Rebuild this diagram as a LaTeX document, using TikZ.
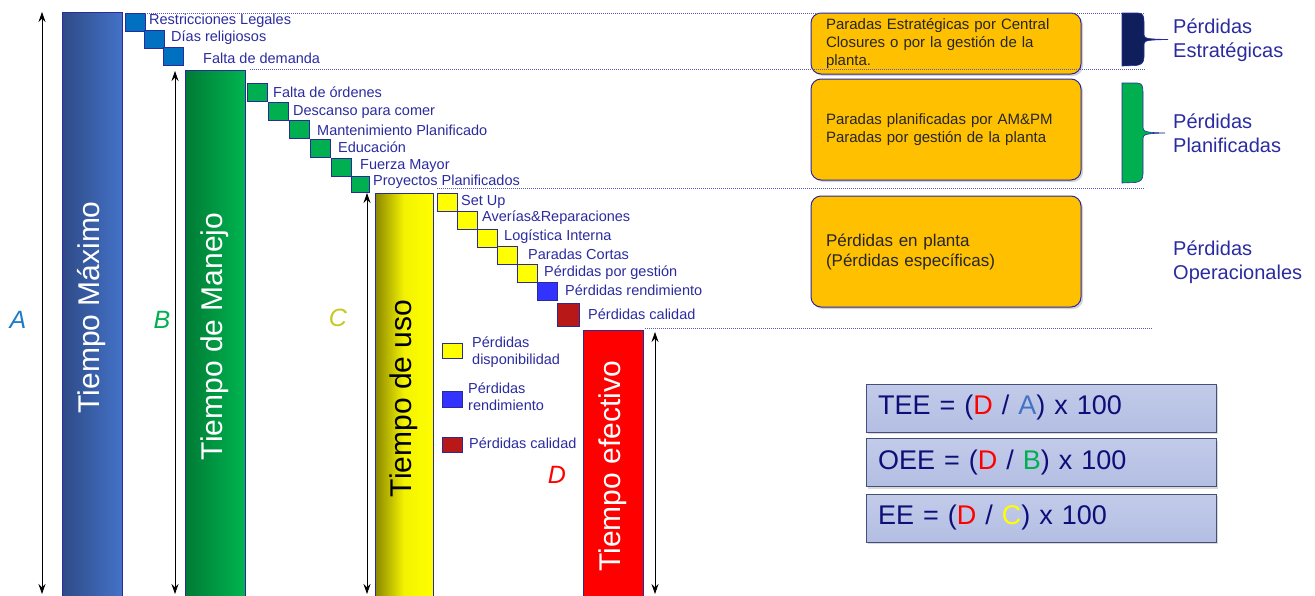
\documentclass[tikz,border=0pt]{standalone}
\usepackage{fontspec}
\setmainfont{Liberation Sans}
\usetikzlibrary{arrows.meta,shadows,positioning}

\definecolor{navytxt}{HTML}{2B2BA0}
\definecolor{navyline}{HTML}{2A2A9A}
\definecolor{guideblue}{HTML}{5858C0}
\definecolor{maxdark}{HTML}{2E4A86}
\definecolor{maxlight}{HTML}{4472C8}
\definecolor{mandark}{HTML}{007A35}
\definecolor{manlight}{HTML}{00B550}
\definecolor{usodark}{HTML}{8A8600}
\definecolor{usolight}{HTML}{FFFF00}
\definecolor{efred}{HTML}{FF0000}
\definecolor{stepblue}{HTML}{0070C0}
\definecolor{stepgreen}{HTML}{00B050}
\definecolor{perfblue}{HTML}{3333FF}
\definecolor{qualred}{HTML}{B81818}
\definecolor{lossorange}{HTML}{FFC000}
\definecolor{boxtxt}{HTML}{262626}
\definecolor{formfill}{HTML}{B3BEE3}
\definecolor{formline}{HTML}{44507A}
\definecolor{formtxt}{HTML}{0E0E78}
\definecolor{labA}{HTML}{1F7BC8}
\definecolor{formA}{HTML}{4472C4}
\definecolor{labC}{HTML}{C8C820}
\definecolor{stratnavy}{HTML}{0F1F5C}

\begin{document}
\begin{tikzpicture}[x=1pt, y=-1pt, >=Stealth,
  bar/.style={draw=navyline, line width=0.8pt, minimum width=60pt, anchor=north, inner sep=0pt},
  barlbl/.style={rotate=90, font=\fontsize{30}{34}\selectfont, inner sep=0pt},
  stepsq/.style={draw=navyline, line width=0.8pt, minimum width=20pt, minimum height=18pt, inner sep=0pt},
  steplbl/.style={anchor=west, text=navytxt, font=\fontsize{14.5}{17}\selectfont, inner sep=0pt},
  dimarrow/.style={<->, line width=0.8pt, >={Stealth[length=10pt,width=7pt]}},
  dimlbl/.style={font=\fontsize{25}{28}\selectfont\itshape, inner sep=0pt},
  guide/.style={densely dotted, guideblue, line width=1pt},
  lossbox/.style={draw=navyline, line width=1pt, fill=lossorange, rounded corners=10pt,
                  text width=240pt, inner xsep=15pt, align=left, text=boxtxt,
                  font=\fontsize{15}{18}\selectfont,
                  drop shadow={shadow xshift=2pt, shadow yshift=-2pt, opacity=0.35}},
  grouplbl/.style={anchor=west, align=left, text=navytxt, font=\fontsize{20}{24}\selectfont, inner sep=0pt},
  formbox/.style={draw=formline, line width=1pt, top color=formfill!80!white, bottom color=formfill,
                  minimum height=48pt, text width=326pt, inner xsep=12pt, align=left, text=formtxt,
                  font=\fontsize{27}{30}\selectfont,
                  drop shadow={shadow xshift=2pt, shadow yshift=-2pt, opacity=0.3}}]
  \useasboundingbox (0,0) rectangle (1315,595);
  \clip (0,0) rectangle (1315,595);

  % Time bars
  \node[bar, left color=maxdark, right color=maxlight, minimum height=590pt] (maxBar) at (92,12) {};
  \node[bar, left color=mandark, right color=manlight, minimum height=532pt] (manBar) at (215,70) {};
  \node[bar, left color=usodark, right color=usolight, middle color=usolight!90!usodark, minimum width=58pt, minimum height=410pt] (usoBar) at (404,193) {};
  \node[bar, fill=efred, minimum height=272pt] (efBar) at (613,330) {};
  \node[barlbl, white] (maxTxt) at (maxBar.center) {Tiempo Máximo};
  \node[barlbl, white] (manTxt) at (manBar.center) {Tiempo de Manejo};
  \node[barlbl, black] (usoTxt) at (usoBar.center) {Tiempo de uso};
  \node[barlbl, white] (efTxt) at (efBar.center) {Tiempo efectivo};

  % Dimension arrows
  \coordinate (aTop) at (42,12);   \coordinate (aBot) at (42,594);
  \coordinate (bTop) at (175,71);  \coordinate (bBot) at (175,594);
  \coordinate (cTop) at (367,193); \coordinate (cBot) at (367,594);
  \coordinate (dTop) at (655,332); \coordinate (dBot) at (655,594);
  \draw[dimarrow] (aTop) -- (aBot);
  \draw[dimarrow] (bTop) -- (bBot);
  \draw[dimarrow] (cTop) -- (cBot);
  \draw[dimarrow] (dTop) -- (dBot);
  \node[dimlbl, text=labA] (labelA) at (18,320) {A};
  \node[dimlbl, text=stepgreen] (labelB) at (162,320) {B};
  \node[dimlbl, text=labC] (labelC) at (338,318) {C};
  \node[dimlbl, text=efred] (labelD) at (557,475) {D};

  % Strategic losses
  \node[stepsq, fill=stepblue] (s1) at (135,22) {};
  \node[stepsq, fill=stepblue] (s2) at (154,39) {};
  \node[stepsq, fill=stepblue] (s3) at (173,56) {};
  \node[steplbl] (s1t) at (149,21) {Restricciones Legales};
  \node[steplbl] (s2t) at (171,38) {Días religiosos};
  \node[steplbl] (s3t) at (203,58) {Falta de demanda};

  % Planned losses
  \node[stepsq, fill=stepgreen] (p1) at (257,92) {};
  \node[stepsq, fill=stepgreen] (p2) at (278,111) {};
  \node[stepsq, fill=stepgreen] (p3) at (299,129.5) {};
  \node[stepsq, fill=stepgreen] (p4) at (320,148.5) {};
  \node[stepsq, fill=stepgreen] (p5) at (341,167) {};
  \node[stepsq, fill=stepgreen, minimum width=18pt, minimum height=16pt] (p6) at (360,184.5) {};
  \node[steplbl] (p1t) at (273,92) {Falta de órdenes};
  \node[steplbl] (p2t) at (293,112) {Descanso para comer};
  \node[steplbl] (p3t) at (317,130) {Mantenimiento Planificado};
  \node[steplbl] (p4t) at (338,147) {Educación};
  \node[steplbl] (p5t) at (360,166) {Fuerza Mayor};
  \node[steplbl] (p6t) at (373,182) {Proyectos Planificados};

  % Operational losses
  \node[stepsq, fill=usolight] (o1) at (447.5,202) {};
  \node[stepsq, fill=usolight] (o2) at (467,220) {};
  \node[stepsq, fill=usolight] (o3) at (487,238) {};
  \node[stepsq, fill=usolight] (o4) at (507,255.5) {};
  \node[stepsq, fill=usolight] (o5) at (527,273) {};
  \node[stepsq, fill=perfblue] (o6) at (547,291.5) {};
  \node[stepsq, fill=qualred, minimum width=22pt, minimum height=23pt] (o7) at (568.5,315) {};
  \node[steplbl] (o1t) at (461,202) {Set Up};
  \node[steplbl] (o2t) at (482,218) {Averías\&Reparaciones};
  \node[steplbl] (o3t) at (504,237) {Logística Interna};
  \node[steplbl] (o4t) at (528,254) {Paradas Cortas};
  \node[steplbl] (o5t) at (544,273) {Pérdidas por gestión};
  \node[steplbl] (o6t) at (565,290) {Pérdidas rendimiento};
  \node[steplbl] (o7t) at (588,314) {Pérdidas calidad};

  % Legend
  \node[stepsq, fill=usolight, minimum height=15pt] (leg1) at (452,350.5) {};
  \node[stepsq, fill=perfblue, minimum height=16pt] (leg2) at (452,399) {};
  \node[stepsq, fill=qualred, minimum height=15pt] (leg3) at (452,444.5) {};
  \node[steplbl, align=left] (leg1t) at (472,352.5) {Pérdidas\\disponibilidad};
  \node[steplbl, align=left] (leg2t) at (468,397) {Pérdidas\\rendimiento};
  \node[steplbl] (leg3t) at (469,443) {Pérdidas calidad};

  % Loss group boxes
  \node[lossbox, minimum height=61pt] (stratBox) at (946,43.5) {Paradas Estratégicas por Central\\Closures o por la gestión de la\\planta.};
  \node[lossbox, minimum height=101pt] (planBox) at (946,129.5) {Paradas planificadas por AM\&PM\\Paradas por gestión de la planta};
  \node[lossbox, minimum height=111pt, font=\fontsize{17}{20}\selectfont] (operBox) at (946,251.5) {Pérdidas en planta\\(Pérdidas específicas)};

  % Guide lines between the loss groups
  \draw[guide] (145,13) -- (1145,13);
  \draw[guide] (250,69) -- (1145,69);
  \draw[guide] (437,188) -- (1145,188);
  \draw[guide] (645,328) -- (1152,328);

  % Braces and group names
  \fill[stratnavy, draw=navyline, line width=0.6pt]
    (1122,13) -- (1138,13) .. controls (1143,13) and (1144,16) .. (1144,22)
    -- (1144,35) .. controls (1144,39) and (1150,39) .. (1168,39.5)
    .. controls (1150,40) and (1144,40) .. (1144,44)
    -- (1144,57) .. controls (1144,63) and (1141,65) .. (1136,65.5) -- (1122,66) -- cycle;
  \fill[stepgreen, draw=navyline, line width=0.6pt]
    (1122,83) -- (1137,83) .. controls (1142,83) and (1143,86) .. (1143,92)
    -- (1143,128) .. controls (1143,132) and (1148,132.5) .. (1165,133)
    .. controls (1148,133.5) and (1143,134) .. (1143,138)
    -- (1143,174) .. controls (1143,180) and (1140,182) .. (1135,182.5) -- (1122,183) -- cycle;
  \node[grouplbl] (stratLbl) at (1173,40) {Pérdidas\\Estratégicas};
  \node[grouplbl] (planLbl) at (1173,133.5) {Pérdidas\\Planificadas};
  \node[grouplbl] (operLbl) at (1173,262) {Pérdidas\\Operacionales};

  % Efficiency formulas
  \node[formbox] (tee) at (1041,408) {TEE = ({\color{efred}D} / {\color{formA}A}) x 100};
  \node[formbox] (oee) at (1041,462.5) {OEE = ({\color{efred}D} / {\color{stepgreen}B}) x 100};
  \node[formbox] (ee) at (1041,518) {EE = ({\color{efred}D} / {\color{usolight}C}) x 100};
\end{tikzpicture}
\end{document}
